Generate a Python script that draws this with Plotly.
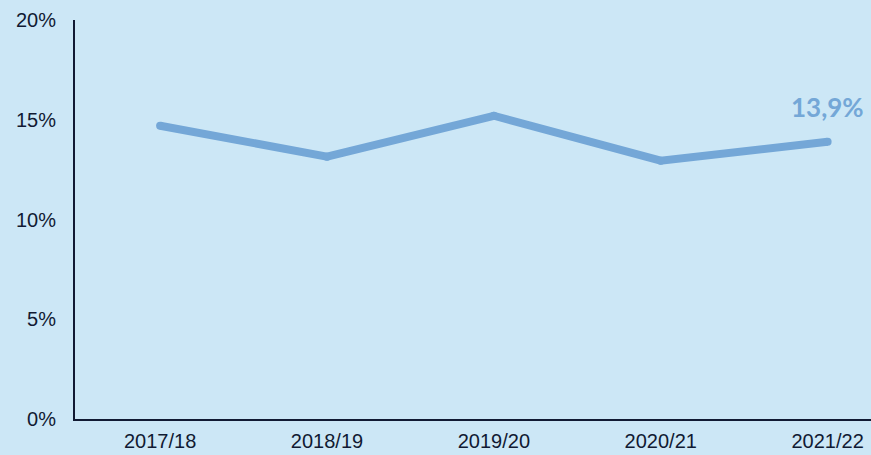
import plotly.graph_objects as go

categories = ["2017/18", "2018/19", "2019/20", "2020/21", "2021/22"]
values = [14.7, 13.15, 15.2, 12.95, 13.9]
y_ticks = [0, 5, 10, 15, 20]
y_tick_labels = ["0%", "5%", "10%", "15%", "20%"]
last_label = "13,9%"

BG = "#cce7f6"
LINE = "#74a7d7"
TXT = "#111a33"

xs = list(range(len(categories)))

fig = go.Figure()
fig.add_trace(go.Scatter(
    x=xs, y=values, mode="lines+markers",
    line=dict(color=LINE, width=8),
    marker=dict(color=LINE, size=8, line=dict(width=0)),
    hoverinfo="skip", showlegend=False,
))
fig.add_annotation(
    x=xs[-1], y=values[-1], text="<b>" + last_label + "</b>",
    showarrow=False, xanchor="center", yanchor="middle", yshift=35,
    font=dict(family="Lato, sans-serif", size=26, color=LINE),
)
fig.update_layout(
    width=871, height=455,
    margin=dict(l=75, r=0, t=20, b=36),
    paper_bgcolor=BG, plot_bgcolor=BG,
    font=dict(family="Liberation Sans, Arial, sans-serif", size=20, color=TXT),
    xaxis=dict(
        tickmode="array", tickvals=xs, ticktext=categories,
        range=[-0.51, 4.26], showgrid=False, zeroline=False,
        showline=True, linecolor=TXT, linewidth=2,
        ticks="", ticklabelstandoff=3,
    ),
    yaxis=dict(
        tickmode="array", tickvals=y_ticks, ticktext=y_tick_labels,
        range=[0, 20], showgrid=False, zeroline=False,
        showline=True, linecolor=TXT, linewidth=2,
        ticks="", ticklabelstandoff=13,
    ),
)
fig.write_html("out.html", config={"displayModeBar": False},
               post_script="document.body.style.margin='0';")
